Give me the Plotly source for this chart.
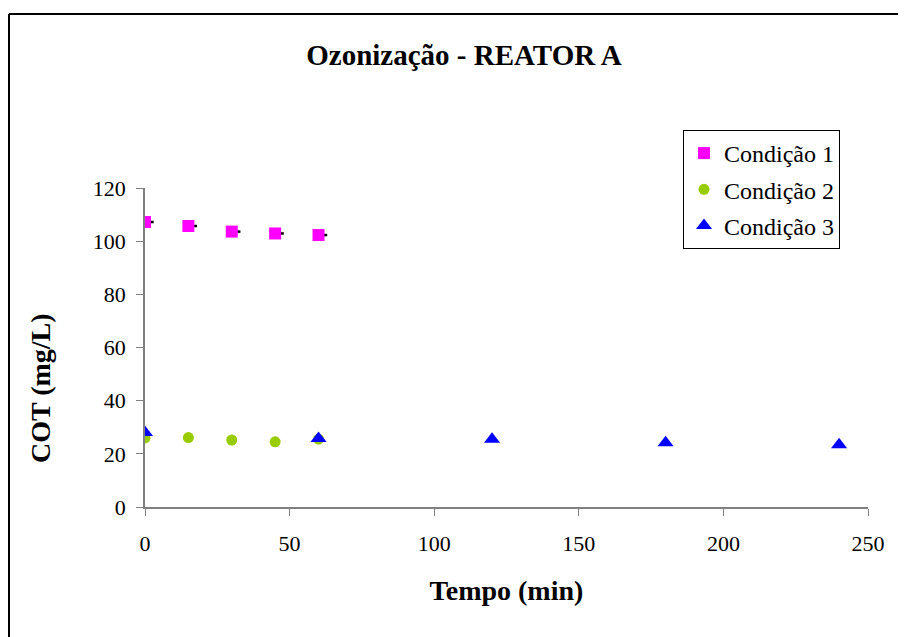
import plotly.graph_objects as go

tempo_c1 = [0, 15, 30, 45, 60]
cot_c1 = [107.2, 105.7, 103.6, 102.9, 102.3]
erro_c1 = [3, 3, 3, 3, 3]

tempo_c2 = [0, 15, 30, 45, 60]
cot_c2 = [26.0, 26.1, 25.2, 24.5, 25.5]

tempo_c3 = [0, 60, 120, 180, 240]
cot_c3 = [28.0, 25.8, 25.5, 24.2, 23.4]

FONT = "Liberation Serif, Times New Roman, serif"

fig = go.Figure()
fig.add_trace(go.Scatter(
    x=tempo_c1, y=cot_c1, mode="markers", name="Condição 1", legendgroup="g1",
    marker=dict(symbol="square", size=12, color="#FF00FF"),
    error_x=dict(type="data", array=erro_c1, arrayminus=[0]*len(erro_c1),
                 color="black", thickness=2.5, width=0),
))
fig.add_trace(go.Scatter(
    x=tempo_c2, y=cot_c2, mode="markers", name="Condição 2", legendgroup="g2",
    marker=dict(symbol="circle", size=11, color="#99CC00"),
))
fig.add_trace(go.Scatter(
    x=tempo_c3, y=cot_c3, mode="markers", name="Condição 3", legendgroup="g3",
    marker=dict(symbol="triangle-up", size=14, color="#0000FF"),
))

OFF = 8  # page body margin
W, H = 906, 637
# target plot area in window pixels
PX0, PX1, PY0, PY1 = 145, 868, 188, 507
L = PX0 - OFF
T = PY0 - OFF
R = W - (PX1 - OFF)
B = H - (PY1 - OFF)
pw, ph = PX1 - PX0, PY1 - PY0

def px_x(p):
    return (p - PX0) / pw

def px_y(p):
    return (PY1 - p) / ph

fig.update_layout(
    width=W, height=H,
    margin=dict(l=L, r=R, t=T, b=B),
    paper_bgcolor="white", plot_bgcolor="white",
    font=dict(family=FONT, color="black", size=22),
    title=dict(text="<b>Ozonização - REATOR A</b>", x=px_x(464), xanchor="center",
               xref="paper", y=1 - (55 - OFF) / H, yanchor="middle",
               font=dict(size=29, family=FONT, color="black")),
    showlegend=True,
    legend=dict(x=px_x(683), y=px_y(130), xanchor="left", yanchor="top",
                bordercolor="black", borderwidth=1, bgcolor="white",
                font=dict(size=24, family=FONT), tracegroupgap=2,
                traceorder="grouped", itemwidth=30),
    xaxis=dict(range=[0, 250], tickvals=[0, 50, 100, 150, 200, 250],
               showgrid=False, zeroline=False, showline=True, linecolor="#808080",
               linewidth=1.5, ticks="outside", ticklen=7, tickcolor="#808080",
               tickfont=dict(size=22, family=FONT), ticklabelstandoff=9,
               title=dict(text="<b>Tempo (min)</b>", font=dict(size=28, family=FONT),
                          standoff=25)),
    yaxis=dict(range=[0, 120], tickvals=[0, 20, 40, 60, 80, 100, 120],
               showgrid=False, zeroline=False, showline=True, linecolor="#808080",
               linewidth=1.5, ticks="outside", ticklen=7, tickcolor="#808080",
               tickfont=dict(size=22, family=FONT), ticklabelstandoff=6),
    annotations=[
        dict(text="<b>COT (mg/L)</b>", xref="paper", yref="paper",
             x=px_x(40), y=px_y(388), xanchor="center", yanchor="middle",
             textangle=-90, showarrow=False,
             font=dict(size=28, family=FONT, color="black")),
    ],
    shapes=[
        dict(type="line", xref="paper", yref="paper", x0=px_x(9), x1=px_x(W + 30),
             y0=px_y(14), y1=px_y(14), line=dict(color="black", width=2)),
        dict(type="line", xref="paper", yref="paper", x0=px_x(9), x1=px_x(9),
             y0=px_y(14), y1=px_y(H + 30), line=dict(color="black", width=2)),
    ],
)

fig.write_html("out.html")
